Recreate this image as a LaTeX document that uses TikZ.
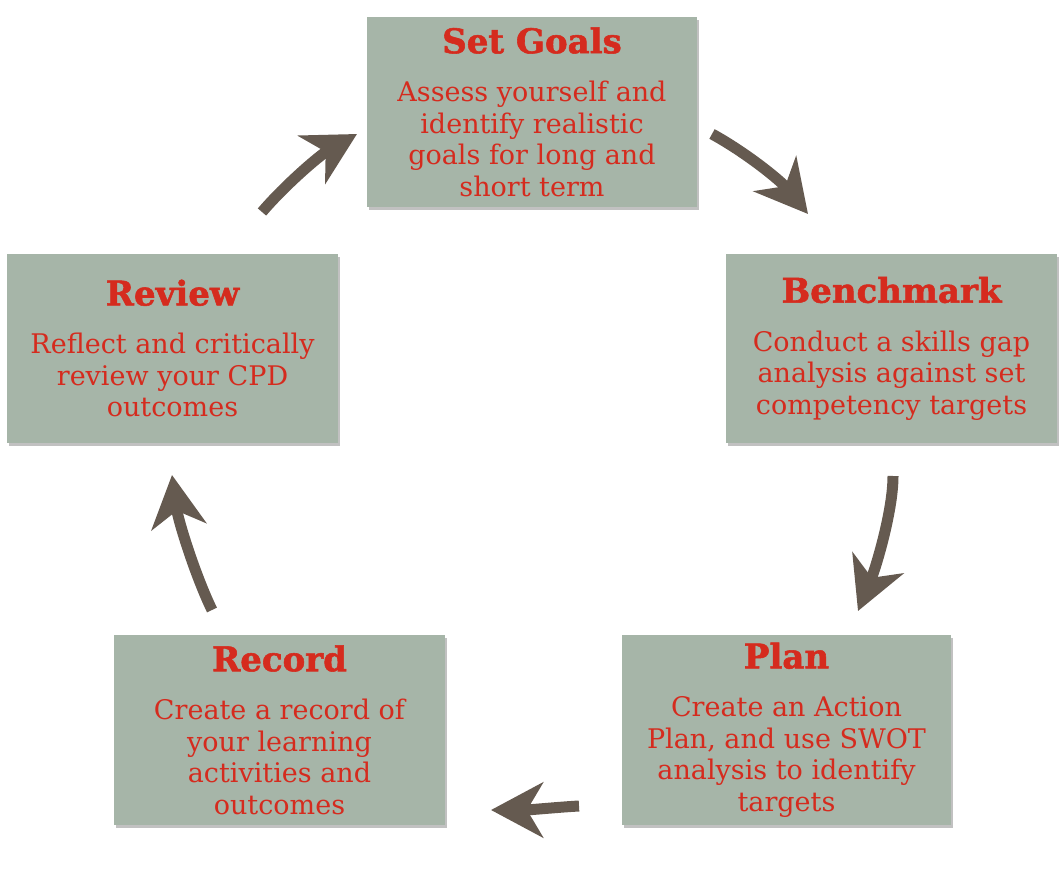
\documentclass[tikz,border=0pt]{standalone}
\usepackage{fontspec}
\setmainfont{DejaVu Serif}
\newfontfamily\titlefont{DejaVu Serif}[BoldFeatures={FakeBold=1.6}]
\usetikzlibrary{arrows.meta,shadows}
\definecolor{boxfill}{HTML}{A6B5A8}
\definecolor{txtred}{HTML}{D52B1E}
\definecolor{arrowc}{HTML}{655A50}
\tikzset{
  stagebox/.style={rectangle, fill=boxfill, draw=none, inner sep=0pt,
    minimum width=330pt, minimum height=190pt, align=center, text=txtred,
    font=\fontsize{27}{31.5}\selectfont,
    drop shadow={shadow xshift=2pt, shadow yshift=-3pt, opacity=0.35, fill=black!70}},
  cyclearrow/.style={draw=arrowc, line width=11pt,
    -{Stealth[length=52pt, width=55pt, inset=16pt, fill=arrowc]}},
}
\newcommand{\stitle}[1]{{\fontsize{34}{40}\selectfont\titlefont\bfseries #1}\\[17pt]}
\begin{document}
\begin{tikzpicture}[x=1pt,y=-1pt]
\useasboundingbox (0,0) rectangle (1064,874);
\node[stagebox] (goals) at (532,112) {\stitle{Set Goals}Assess yourself and\\identify realistic\\goals for long and\\short term};
\node[stagebox, minimum width=331pt, minimum height=189pt] (bench) at (891.5,348.5) {\stitle{Benchmark}Conduct a skills gap\\analysis against set\\competency targets};
\node[stagebox, minimum width=329pt] (plan) at (786.5,730) {\stitle{Plan}Create an Action\\Plan, and use SWOT\\analysis to identify\\targets};
\node[stagebox, minimum width=331pt] (record) at (279.5,730) {\stitle{Record}Create a record of\\your learning\\activities and\\outcomes};
\node[stagebox, minimum width=331pt, minimum height=189pt] (review) at (172.5,348.5) {\stitle{Review}Reflect and critically\\review your CPD\\outcomes};
% arrow end points
\coordinate (a1s) at (262,212); \coordinate (a1e) at (357,134);
\coordinate (a2s) at (712,134); \coordinate (a2e) at (808,214);
\coordinate (a3s) at (893,476); \coordinate (a3e) at (858,611);
\coordinate (a4s) at (579,806); \coordinate (a4e) at (491,810);
\coordinate (a5s) at (212,610); \coordinate (a5e) at (172,475);
\draw[cyclearrow] (a1s) .. controls (285,185) and (320,155) .. (a1e);
\draw[cyclearrow] (a2s) .. controls (745,152) and (780,180) .. (a2e);
\draw[cyclearrow] (a3s) .. controls (893,512) and (875,570) .. (a3e);
\draw[cyclearrow] (a4s) .. controls (560,807) and (530,810) .. (a4e);
\draw[cyclearrow] (a5s) .. controls (195,575) and (178,520) .. (a5e);
\end{tikzpicture}
\end{document}
